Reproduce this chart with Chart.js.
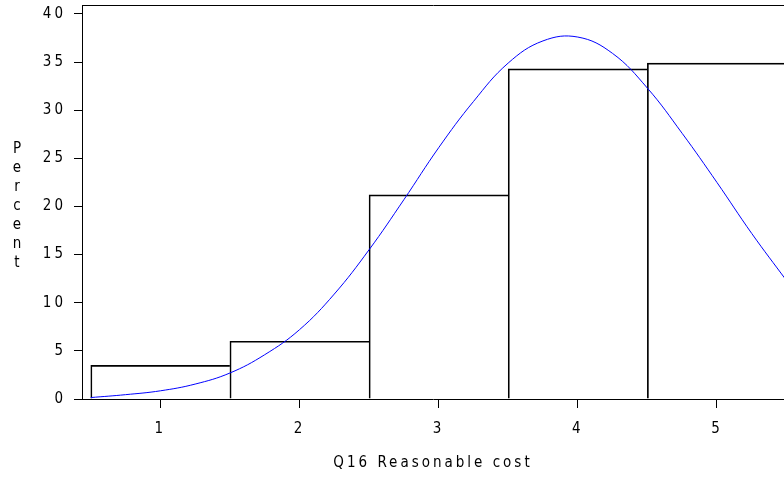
<!DOCTYPE html>
<html>
<head>
  <meta charset="UTF-8">
  <title>Q16 Reasonable cost</title>
  <script src="https://cdn.jsdelivr.net/npm/chart.js"></script>
  <style>
    body { margin: 0; background: #fff; }
    canvas { display: block; }
  </style>
</head>
<body>
  <canvas id="histChart" width="784" height="480"></canvas>
  <script>
    // histogram bins (midpoints) and percent in each
    const binMids = [1, 2, 3, 4, 5];
    const binPercents = [3.5, 6.0, 21.2, 34.3, 34.9];

    // fitted normal curve
    const curveX = [0.5, 0.75, 1, 1.25, 1.5, 1.75, 2, 2.25, 2.5, 2.75, 3, 3.25, 3.5, 3.75, 4, 4.25, 4.5, 4.75, 5, 5.25, 5.5];
    const curveY = [0.15, 0.45, 0.85, 1.55, 2.7, 4.6, 7.2, 10.9, 15.5, 20.7, 26.1, 30.9, 34.9, 37.2, 37.6, 35.9, 32.3, 27.6, 22.5, 17.2, 12.3];

    const xTicks = [1, 2, 3, 4, 5];
    const yTicks = [0, 5, 10, 15, 20, 25, 30, 35, 40];
    const xTitle = 'Q16 Reasonable cost';
    const yTitle = 'Percent';

    const fontFamily = '"DejaVu Sans Condensed", "DejaVu Sans", sans-serif';
    Chart.defaults.font.family = fontFamily;
    Chart.defaults.font.size = 15;
    Chart.defaults.color = '#000';

    // stacked letters for the y title, plus wide letter spacing like the SAS font
    const sasText = {
      id: 'sasText',
      beforeDraw(chart) {
        chart.ctx.letterSpacing = '3px';
      },
      afterDraw(chart) {
        const ctx = chart.ctx;
        const area = chart.chartArea;
        ctx.save();
        ctx.letterSpacing = '0px';
        ctx.font = '15px ' + fontFamily;
        ctx.fillStyle = '#000';
        ctx.textAlign = 'center';
        ctx.textBaseline = 'middle';
        const step = 19;
        const mid = (area.top + area.bottom) / 2 + 4;
        const start = mid - step * (yTitle.length - 1) / 2;
        for (let i = 0; i < yTitle.length; i++) {
          ctx.fillText(yTitle[i], 17, start + i * step);
        }
        ctx.restore();
        ctx.letterSpacing = '0px';
      }
    };

    new Chart(document.getElementById('histChart'), {
      type: 'bar',
      data: {
        datasets: [{
          type: 'line',
          data: curveX.map((x, i) => ({ x: x, y: curveY[i] })),
          borderColor: '#0000ff',
          borderWidth: 1,
          pointRadius: 0,
          tension: 0.4,
          order: 0
        }, {
          type: 'bar',
          data: binMids.map((x, i) => ({ x: x, y: binPercents[i] })),
          backgroundColor: 'rgba(255,255,255,0)',
          borderColor: '#000',
          borderWidth: { top: 1, left: 1, right: 0, bottom: 0 },
          borderSkipped: false,
          barPercentage: 1,
          categoryPercentage: 1,
          order: 1
        }]
      },
      options: {
        responsive: false,
        animation: false,
        layout: { padding: 0 },
        plugins: {
          legend: { display: false },
          tooltip: { enabled: false }
        },
        scales: {
          x: {
            type: 'linear',
            position: 'bottom',
            offset: false,
            min: 0.437,
            max: 5.482,
            afterBuildTicks: s => { s.ticks = xTicks.map(v => ({ value: v })); },
            afterFit: s => { s.height = 81; s.paddingLeft = 0; s.paddingRight = 0; },
            grid: { offset: false, drawOnChartArea: false, tickLength: 9, color: '#000' },
            border: { color: '#000', width: 1 },
            ticks: { padding: 12 },
            title: { display: true, text: xTitle, padding: { top: 0, bottom: 8 } }
          },
          x2: {
            type: 'linear',
            position: 'top',
            offset: false,
            min: 0.437,
            max: 5.482,
            afterFit: s => { s.height = 5; s.paddingLeft = 0; s.paddingRight = 0; },
            grid: { display: false },
            border: { color: '#000', width: 1 },
            ticks: { display: false }
          },
          y: {
            min: 0,
            max: 40.93,
            afterBuildTicks: s => { s.ticks = yTicks.map(v => ({ value: v })); },
            afterFit: s => { s.width = 82; s.paddingTop = 0; s.paddingBottom = 0; },
            grid: { drawOnChartArea: false, tickLength: 8, color: '#000' },
            border: { color: '#000', width: 1 },
            ticks: { padding: 8 }
          }
        }
      },
      plugins: [sasText]
    });
  </script>
</body>
</html>
